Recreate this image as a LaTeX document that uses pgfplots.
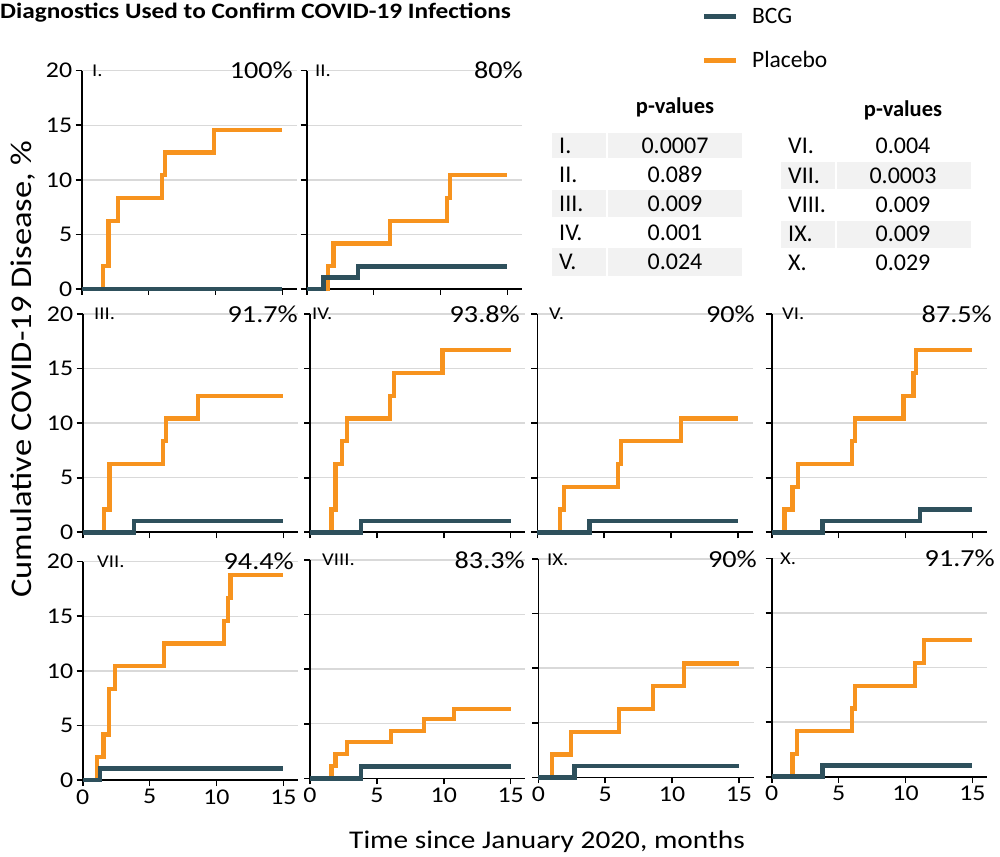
\documentclass[border=0pt]{standalone}
\usepackage{pgfplots}
\pgfplotsset{compat=1.18}
\usepackage{fontspec}
\setmainfont{Carlito}
\newfontfamily\wide{Carlito}[FakeStretch=1.15]
\definecolor{bcg}{RGB}{46,80,92}
\definecolor{plac}{RGB}{247,147,30}
\definecolor{gridc}{RGB}{217,217,217}
\definecolor{cellc}{RGB}{242,242,242}
\newcommand{\fs}[1]{\fontsize{#1}{#1}\selectfont}
\pgfplotsset{
  panel/.style={
    scale only axis, width=215.4pt, height=218.3pt,
    xmin=0, xmax=16.1, ymin=0, ymax=20,
    axis x line*=bottom, axis y line*=left,
    xtick={0,5,10,15}, ytick={0,5,10,15,20},
    tick align=outside, major tick length=6pt,
    tick style={black, line width=1.6pt},
    axis line style={black, line width=1.6pt},
    ymajorgrids, grid style={gridc, line width=1.5pt},
    xticklabels={}, yticklabels={},
    ticklabel style={font=\wide\fs{22.5}},
    /pgf/number format/assume math mode=true,
    clip=false, anchor=south west,
  },
  xlab/.style={xticklabels={0,5,10,15}},
  ylab/.style={yticklabels={0,5,10,15,20}},
  pl/.style={plac, line width=4.2pt, const plot, mark=none},
  bc/.style={bcg, line width=4.5pt, const plot, mark=none},
}
\begin{document}
\begin{tikzpicture}
\useasboundingbox (0pt,0pt) rectangle (1000pt,856pt);
% ---- Panel I
\begin{axis}[panel, ylab, at={(81.7pt,567pt)}]
\addplot[pl] coordinates {(0,0)(1.6,2.08)(2.0,6.25)(2.7,8.33)(6.0,10.42)(6.2,12.5)(9.9,14.58)(15,14.58)};
\addplot[bc] coordinates {(0,0)(15,0)};
\end{axis}
% ---- Panel II
\begin{axis}[panel, at={(306.7pt,567pt)}]
\addplot[pl] coordinates {(0,0)(1.6,2.08)(2.0,4.17)(6.2,6.25)(10.5,8.33)(10.7,10.42)(15,10.42)};
\addplot[bc] coordinates {(0,0)(1.25,1.04)(3.85,2.08)(15,2.08)};
\end{axis}
% ---- Panel III
\begin{axis}[panel, ylab, at={(82.7pt,323.7pt)}]
\addplot[pl] coordinates {(0,0)(1.6,2.08)(2.0,6.25)(6.0,8.33)(6.2,10.42)(8.6,12.5)(15,12.5)};
\addplot[bc] coordinates {(0,0)(3.85,1.04)(15,1.04)};
\end{axis}
% ---- Panel IV
\begin{axis}[panel, at={(310pt,323.7pt)}]
\addplot[pl] coordinates {(0,0)(1.6,2.08)(1.9,6.25)(2.4,8.33)(2.75,10.42)(5.95,12.5)(6.25,14.58)(9.9,16.67)(15,16.67)};
\addplot[bc] coordinates {(0,0)(3.8,1.04)(15,1.04)};
\end{axis}
% ---- Panel V
\begin{axis}[panel, at={(537.3pt,323.7pt)}]
\addplot[pl] coordinates {(0,0)(1.7,2.08)(2.0,4.17)(6.05,6.25)(6.25,8.33)(10.75,10.42)(15,10.42)};
\addplot[bc] coordinates {(0,0)(3.9,1.04)(15,1.04)};
\end{axis}
% ---- Panel VI
\begin{axis}[panel, at={(771.7pt,323.7pt)}]
\addplot[pl] coordinates {(0,0)(0.95,2.08)(1.55,4.17)(1.95,6.25)(6.0,8.33)(6.2,10.42)(9.85,12.5)(10.6,14.58)(10.8,16.67)(15,16.67)};
\addplot[bc] coordinates {(0,0)(3.8,1.04)(11.1,2.08)(15,2.08)};
\end{axis}
% ---- Panel VII
\begin{axis}[panel, ylab, xlab, at={(82.7pt,76pt)}]
\addplot[pl] coordinates {(0,0)(1.05,2.08)(1.55,4.17)(1.95,8.33)(2.4,10.42)(6.05,12.5)(10.55,14.58)(10.85,16.67)(11.05,18.75)(15,18.75)};
\addplot[bc] coordinates {(0,0)(1.3,1.04)(15,1.04)};
\end{axis}
% ---- Panel VIII
\begin{axis}[panel, xlab, at={(310pt,77.7pt)}]
\addplot[pl] coordinates {(0,0)(1.6,1.1)(1.9,2.2)(2.75,3.3)(6.05,4.35)(8.5,5.4)(10.75,6.35)(15,6.35)};
\addplot[bc] coordinates {(0,0)(3.8,1.1)(15,1.1)};
\end{axis}
% ---- Panel IX
\begin{axis}[panel, xlab, at={(538.3pt,78.7pt)}]
\addplot[pl] coordinates {(0,0)(1.0,2.08)(2.45,4.17)(6.05,6.25)(8.55,8.33)(10.9,10.42)(15,10.42)};
\addplot[bc] coordinates {(0,0)(2.7,1.04)(15,1.04)};
\end{axis}
% ---- Panel X
\begin{axis}[panel, xlab, at={(771.7pt,79.3pt)}]
\addplot[pl] coordinates {(0,0)(1.55,2.08)(1.9,4.17)(6.0,6.25)(6.2,8.33)(10.7,10.42)(11.4,12.5)(15,12.5)};
\addplot[bc] coordinates {(0,0)(3.8,1.04)(15,1.04)};
\end{axis}
% ---- panel labels
\begin{scope}[every node/.style={inner sep=0pt}]
\tikzset{rn/.style={anchor=west,font=\wide\fs{18}}, pc/.style={anchor=east,font=\wide\fs{24.5}}}
\node[rn] at (92pt,785.3pt) {I.};
\node[rn] at (315pt,785.3pt) {II.};
\node[rn] at (94pt,542pt) {III.};
\node[rn] at (312pt,542pt) {IV.};
\node[rn] at (549pt,542pt) {V.};
\node[rn] at (782pt,542pt) {VI.};
\node[rn] at (97pt,294.3pt) {VII.};
\node[rn] at (322pt,296pt) {VIII.};
\node[rn] at (547pt,296.7pt) {IX.};
\node[rn] at (780pt,297.7pt) {X.};
\node[pc] at (293pt,785.3pt) {100\%};
\node[pc] at (523pt,785.3pt) {80\%};
\node[pc] at (298pt,542pt) {91.7\%};
\node[pc] at (520pt,542pt) {93.8\%};
\node[pc] at (755pt,542pt) {90\%};
\node[pc] at (992pt,542pt) {87.5\%};
\node[pc] at (294pt,294.3pt) {94.4\%};
\node[pc] at (525pt,296pt) {83.3\%};
\node[pc] at (757pt,296.7pt) {90\%};
\node[pc] at (995pt,297.7pt) {91.7\%};
\end{scope}
% ---- axis titles
\node[rotate=90,font=\wide\fs{30}] at (23pt,487pt) {Cumulative COVID-19 Disease, \%};
\node[anchor=base,font=\wide\fs{25.5}] at (547pt,8pt) {Time since January 2020, months};
\node[anchor=base west,inner sep=0pt,font=\wide\bfseries\fs{22}] at (0pt,837pt) {Diagnostics Used to Confirm COVID-19 Infections};
% ---- legend
\draw[bcg, line width=5pt] (704pt,839.5pt) -- (736pt,839.5pt);
\draw[plac, line width=5pt] (704pt,795.5pt) -- (736pt,795.5pt);
\node[anchor=base west,inner sep=0pt,font=\fs{23.5}] at (752pt,832pt) {BCG};
\node[anchor=base west,inner sep=0pt,font=\fs{23.5}] at (752pt,788pt) {Placebo};
% ---- p-value tables
\fill[cellc] (552pt,723pt) rectangle (606pt,698pt);
\fill[cellc] (608pt,723pt) rectangle (742pt,698pt);
\fill[cellc] (552pt,666pt) rectangle (606pt,639pt);
\fill[cellc] (608pt,666pt) rectangle (742pt,639pt);
\fill[cellc] (552pt,608pt) rectangle (606pt,580pt);
\fill[cellc] (608pt,608pt) rectangle (742pt,580pt);
\fill[cellc] (781pt,694pt) rectangle (835pt,667pt);
\fill[cellc] (837pt,694pt) rectangle (971pt,667pt);
\fill[cellc] (781pt,635pt) rectangle (835pt,608pt);
\fill[cellc] (837pt,635pt) rectangle (971pt,608pt);
\begin{scope}[every node/.style={inner sep=0pt,font=\fs{24}}]
\node[anchor=base,font=\bfseries\fs{22.5}] at (675pt,742pt) {p-values};
\node[anchor=base,font=\bfseries\fs{22.5}] at (903pt,739pt) {p-values};
\foreach \lab/\val/\yc in {I./0.0007/146, II./0.089/175, III./0.009/204, IV./0.001/233, V./0.024/262}{
  \node[anchor=base west] at (559pt,{(848.6-\yc)*1pt}) {\lab};
  \node[anchor=base] at (675pt,{(848.6-\yc)*1pt}) {\val};
}
\foreach \lab/\val/\yc in {VI./0.004/146, VII./0.0003/176, VIII./0.009/205, IX./0.009/234, X./0.029/263}{
  \node[anchor=base west] at (788pt,{(848.6-\yc)*1pt}) {\lab};
  \node[anchor=base] at (903pt,{(848.6-\yc)*1pt}) {\val};
}
\end{scope}
\end{tikzpicture}
\end{document}
